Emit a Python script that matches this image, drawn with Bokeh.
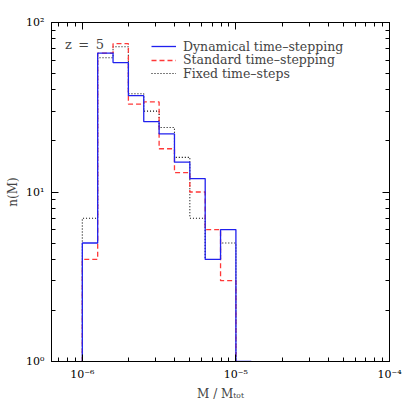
import numpy as np
from bokeh.plotting import figure
from bokeh.models import (LogAxis, FixedTicker, Legend, LegendItem, Label, Range1d,
                          CustomJSTickFormatter)
from bokeh.embed import file_html
from bokeh.resources import INLINE

# ---- data ----
bin_edges = [1.0e-6, 1.259e-6, 1.585e-6, 1.995e-6, 2.512e-6, 3.162e-6,
             3.981e-6, 5.012e-6, 6.310e-6, 7.943e-6, 1.0e-5, 1.259e-5]
dynamical = [5, 66, 58, 37, 26, 22, 15, 12, 4, 6, 0]
standard = [4, 66, 75, 33, 34, 18, 13, 10, 6, 3]
fixed = [7, 62, 72, 38, 30, 24, 16, 7, 4, 5]
floor_value = 1.0

series_labels = ["Dynamical time\u2013stepping", "Standard time\u2013stepping",
                 "Fixed time\u2013steps"]

x_major = [1e-6, 1e-5, 1e-4]
x_minor = [7e-7, 8e-7, 9e-7, 2e-6, 3e-6, 4e-6, 5e-6, 6e-6, 7e-6, 8e-6, 9e-6,
           2e-5, 3e-5, 4e-5, 5e-5, 6e-5, 7e-5, 8e-5, 9e-5]
y_major = [1, 10, 100]
y_minor = [2, 3, 4, 5, 6, 7, 8, 9, 20, 30, 40, 50, 60, 70, 80, 90]


def outline(edges, counts, floor):
    xs, ys = [edges[0]], [floor]
    for i, c in enumerate(counts):
        v = c if c > 0 else floor
        xs += [edges[i], edges[i + 1]]
        ys += [v, v]
    xs.append(edges[len(counts)])
    ys.append(floor)
    return xs, ys


FONT = "DejaVu Serif"

p = figure(width=403, height=403, x_axis_type="log", y_axis_type="log",
           x_range=Range1d(6.3e-7, 1e-4), y_range=Range1d(1, 100),
           output_backend="svg", toolbar_location=None,
           min_border_left=51, min_border_right=14, min_border_top=22,
           min_border_bottom=42)
p.grid.visible = False
p.outline_line_color = "black"
p.background_fill_color = "white"

fmt = CustomJSTickFormatter(code="""
const sup = {'-':'\\u207b','0':'\\u2070','1':'\\u00b9','2':'\\u00b2','3':'\\u00b3','4':'\\u2074','5':'\\u2075','6':'\\u2076','7':'\\u2077','8':'\\u2078','9':'\\u2079'};
const e = Math.round(Math.log10(tick));
let s = '10';
for (const c of String(e)) { s += sup[c]; }
return s;
""")

xt = FixedTicker(ticks=x_major, minor_ticks=x_minor)
yt = FixedTicker(ticks=y_major, minor_ticks=y_minor)


def style(ax, ticker, labels=True):
    ax.ticker = ticker
    ax.axis_line_color = "black"
    ax.major_tick_in = 7
    ax.major_tick_out = 0
    ax.minor_tick_in = 4
    ax.minor_tick_out = 0
    ax.major_tick_line_color = "black"
    ax.minor_tick_line_color = "black"
    if labels:
        ax.formatter = fmt
        ax.major_label_text_font = FONT
        ax.major_label_text_font_size = "11px"
        ax.major_label_text_color = "black"
        ax.axis_label_text_font = FONT
        ax.axis_label_text_font_size = "12px"
        ax.axis_label_text_font_style = "normal"
    else:
        ax.major_label_text_font_size = "1px"
        ax.major_label_text_alpha = 0
        ax.major_label_standoff = 0


style(p.xaxis[0], xt)
style(p.yaxis[0], yt)
p.xaxis[0].axis_label = "M / M\u209c\u2092\u209c"
p.xaxis[0].major_label_standoff = 6
p.xaxis[0].axis_label_standoff = 3
p.yaxis[0].axis_label = "n(M)"
p.yaxis[0].major_label_standoff = 7
p.yaxis[0].axis_label_standoff = 3

top = LogAxis()
style(top, xt, labels=False)
right = LogAxis()
style(right, yt, labels=False)
p.add_layout(top, "above")
p.add_layout(right, "right")

fx, fy = outline(bin_edges, fixed, floor_value)
sx, sy = outline(bin_edges, standard, floor_value)
dx, dy = outline(bin_edges, dynamical, floor_value)

r_fix = p.line(fx, fy, line_color="black", line_width=1.1, line_dash="1 2")
r_std = p.line(sx, sy, line_color="#ff3838", line_width=1.3, line_dash="5 3")
r_dyn = p.line(dx, dy, line_color="#2020ee", line_width=1.3)

for i, (lab, r) in enumerate(zip(series_labels, [r_dyn, r_std, r_fix])):
    lg = Legend(items=[LegendItem(label=lab, renderers=[r])],
                location=(100, 307.5 - 13.5 * i), margin=0, padding=0, spacing=0,
                glyph_width=25, glyph_height=12, label_height=12,
                label_standoff=7, border_line_alpha=0, background_fill_alpha=0,
                label_text_font=FONT, label_text_font_size="12.5px",
                label_text_line_height=1.0)
    p.add_layout(lg, "center")

p.add_layout(Label(x=7.7e-7, y=74, text="z\u2002=\u20025", text_font=FONT,
                   text_font_size="13px", text_baseline="middle"))

open("out.html", "w").write(file_html(p, INLINE))
